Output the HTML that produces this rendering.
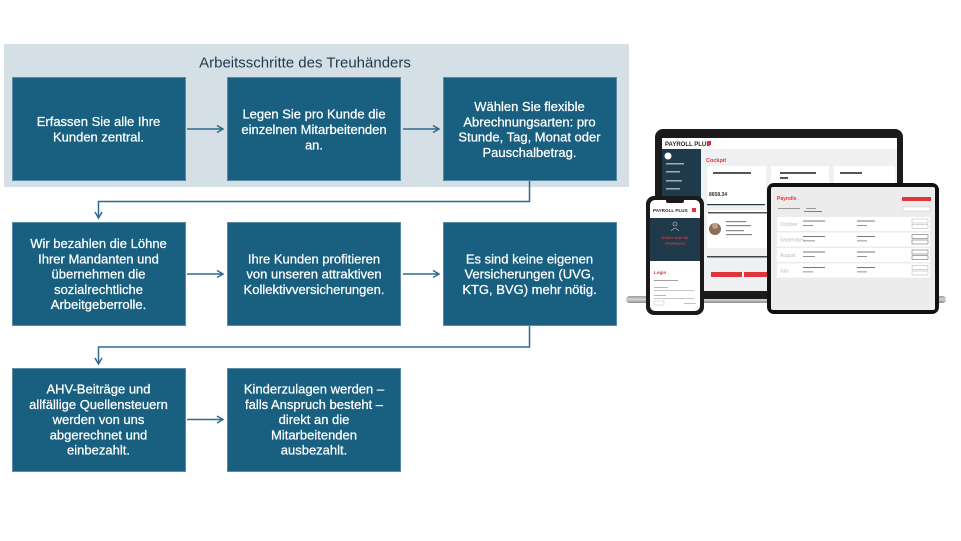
<!DOCTYPE html>
<html>
<head>
<meta charset="utf-8">
<style>
  html,body{margin:0;padding:0;background:#ffffff;}
  body{width:961px;height:541px;overflow:hidden;position:relative;}
  svg{position:absolute;left:0;top:0;display:block;}
  .bt{font-family:"Liberation Sans",sans-serif;font-size:13px;fill:#ffffff;text-anchor:middle;stroke:#ffffff;stroke-width:0.25px;}
  .tt{font-family:"Liberation Sans",sans-serif;font-size:15px;fill:#1e3a4e;text-anchor:middle;}
  .d{font-family:"Liberation Sans",sans-serif;}
</style>
</head>
<body>
<svg width="961" height="541" viewBox="0 0 961 541" xmlns="http://www.w3.org/2000/svg">
  <!-- light panel -->
  <rect x="4" y="44" width="625" height="143" fill="#d5e0e6"/>
  <text class="tt" x="305" y="67.5">Arbeitsschritte des Treuhänders</text>

  <!-- boxes row 1 -->
  <g fill="#185f80" stroke="#5a8aa4" stroke-width="1">
    <rect x="12.5" y="77.5" width="173" height="103"/>
    <rect x="227.5" y="77.5" width="173" height="103"/>
    <rect x="443.5" y="77.5" width="173" height="103"/>
    <rect x="12.5" y="222.5" width="173" height="103"/>
    <rect x="227.5" y="222.5" width="173" height="103"/>
    <rect x="443.5" y="222.5" width="173" height="103"/>
    <rect x="12.5" y="368.5" width="173" height="103"/>
    <rect x="227.5" y="368.5" width="173" height="103"/>
  </g>

  <!-- connectors -->
  <g stroke="#2f6b8d" stroke-width="1.5" fill="none">
    <line x1="187" y1="129" x2="223" y2="129"/>
    <polyline points="217,125.5 223,129 217,132.5"/>
    <line x1="403" y1="129" x2="439" y2="129"/>
    <polyline points="433,125.5 439,129 433,132.5"/>

    <line x1="187" y1="274" x2="223" y2="274"/>
    <polyline points="217,270.5 223,274 217,277.5"/>
    <line x1="403" y1="274" x2="439" y2="274"/>
    <polyline points="433,270.5 439,274 433,277.5"/>

    <line x1="187" y1="419.5" x2="223" y2="419.5"/>
    <polyline points="217,416 223,419.5 217,423"/>

    <polyline points="529.5,181 529.5,201.5 98.5,201.5 98.5,218"/>
    <polyline points="95,212 98.5,218 102,212"/>

    <polyline points="529.5,326 529.5,347 98.5,347 98.5,364"/>
    <polyline points="95,358 98.5,364 102,358"/>
  </g>

  <!-- row 1 texts -->
  <text class="bt" x="98.5" y="126">Erfassen Sie alle Ihre</text>
  <text class="bt" x="98.5" y="141.5">Kunden zentral.</text>

  <text class="bt" x="314" y="118.5">Legen Sie pro Kunde die</text>
  <text class="bt" x="314" y="134">einzelnen Mitarbeitenden</text>
  <text class="bt" x="314" y="149.5">an.</text>

  <text class="bt" x="529.5" y="111">Wählen Sie flexible</text>
  <text class="bt" x="529.5" y="126.3">Abrechnungsarten: pro</text>
  <text class="bt" x="529.5" y="141.6">Stunde, Tag, Monat oder</text>
  <text class="bt" x="529.5" y="156.9">Pauschalbetrag.</text>

  <!-- row 2 texts -->
  <text class="bt" x="98.5" y="248">Wir bezahlen die Löhne</text>
  <text class="bt" x="98.5" y="263.3">Ihrer Mandanten und</text>
  <text class="bt" x="98.5" y="278.6">übernehmen die</text>
  <text class="bt" x="98.5" y="293.9">sozialrechtliche</text>
  <text class="bt" x="98.5" y="309.2">Arbeitgeberrolle.</text>

  <text class="bt" x="314" y="263.3">Ihre Kunden profitieren</text>
  <text class="bt" x="314" y="278.6">von unseren attraktiven</text>
  <text class="bt" x="314" y="293.9">Kollektivversicherungen.</text>

  <text class="bt" x="529.5" y="263.3">Es sind keine eigenen</text>
  <text class="bt" x="529.5" y="278.6">Versicherungen (UVG,</text>
  <text class="bt" x="529.5" y="293.9">KTG, BVG) mehr nötig.</text>

  <!-- row 3 texts -->
  <text class="bt" x="98.5" y="393.5">AHV-Beiträge und</text>
  <text class="bt" x="98.5" y="408.8">allfällige Quellensteuern</text>
  <text class="bt" x="98.5" y="424.1">werden von uns</text>
  <text class="bt" x="98.5" y="439.4">abgerechnet und</text>
  <text class="bt" x="98.5" y="454.7">einbezahlt.</text>

  <text class="bt" x="314" y="393.5">Kinderzulagen werden –</text>
  <text class="bt" x="314" y="408.8">falls Anspruch besteht –</text>
  <text class="bt" x="314" y="424.1">direkt an die</text>
  <text class="bt" x="314" y="439.4">Mitarbeitenden</text>
  <text class="bt" x="314" y="454.7">ausbezahlt.</text>

  <!-- ================= DEVICES ================= -->
  <defs>
    <linearGradient id="base" x1="0" y1="0" x2="0" y2="1">
      <stop offset="0" stop-color="#9a9a9a"/>
      <stop offset="0.5" stop-color="#d6d6d6"/>
      <stop offset="1" stop-color="#8a8a8a"/>
    </linearGradient>
  </defs>

  <!-- Laptop -->
  <rect x="626" y="296" width="320" height="7" rx="3.5" fill="url(#base)"/>
  <rect x="655" y="129" width="248" height="170" rx="8" fill="#1b1b1b"/>
  <rect x="662" y="138" width="235" height="153" fill="#eef0f1"/>
  <rect x="662" y="138" width="235" height="11" fill="#ffffff"/>
  <text class="d" x="665" y="146" font-size="6" font-weight="bold" fill="#2a2a2a">PAYROLL PLUS</text>
  <rect x="707" y="141" width="4" height="4" fill="#e0343a"/>
  <rect x="662" y="149" width="39" height="142" fill="#1f3b4b"/>
  <circle cx="668" cy="156" r="3.5" fill="#ffffff"/>
  <g fill="#9fb0ba">
    <rect x="666" y="163" width="18" height="1.5"/>
    <rect x="666" y="171" width="14" height="1.5"/>
    <rect x="666" y="180" width="16" height="1.5"/>
    <rect x="666" y="188" width="14" height="1.5"/>
  </g>
  <text class="d" x="706" y="162" font-size="5.5" font-weight="bold" fill="#e0343a">Cockpit</text>
  <g fill="#ffffff">
    <rect x="707" y="166" width="59" height="38"/>
    <rect x="771" y="166" width="58" height="38"/>
    <rect x="834" y="166" width="61" height="38"/>
    <rect x="707" y="210" width="120" height="38"/>
  </g>
  <g fill="#555">
    <rect x="713" y="172" width="38" height="2"/>
    <rect x="780" y="172" width="36" height="2"/>
    <rect x="780" y="177" width="8" height="2"/>
    <rect x="840" y="172" width="22" height="2"/>
  </g>
  <text class="d" x="709" y="196" font-size="5" font-weight="bold" fill="#333">8658.34</text>
  <rect x="707" y="204" width="58" height="1.2" fill="#2a3b45"/>
  <rect x="708" y="212" width="60" height="1.5" fill="#555"/>
  <circle cx="715" cy="229" r="6" fill="#8a6d5a"/>
  <circle cx="715" cy="226" r="3" fill="#c49a80"/>
  <g fill="#888">
    <rect x="726" y="221" width="20" height="1.2"/>
    <rect x="726" y="225" width="25" height="1.2"/>
    <rect x="726" y="230" width="18" height="1.2"/>
    <rect x="726" y="234" width="26" height="1.2"/>
  </g>
  <rect x="707" y="256" width="70" height="1.5" fill="#444"/>
  <rect x="711" y="272" width="31" height="5" fill="#e0343a"/>
  <rect x="744" y="272" width="31" height="5" fill="#e0343a"/>

  <!-- Tablet -->
  <rect x="767" y="183" width="172" height="131" rx="7" fill="#111111"/>
  <rect x="771" y="187" width="164" height="123" rx="2" fill="#ececec"/>
  <text class="d" x="777" y="200" font-size="5" font-weight="bold" fill="#e0343a">Payrolls</text>
  <rect x="902" y="197" width="29" height="4" fill="#e0343a"/>
  <rect x="778" y="208" width="22" height="1" fill="#999"/>
  <rect x="806" y="208" width="10" height="1" fill="#999"/>
  <rect x="804" y="211" width="18" height="0.8" fill="#666"/>
  <rect x="903" y="207" width="27" height="4" fill="#ffffff" stroke="#bbb" stroke-width="0.4"/>
  <g fill="#ffffff">
    <rect x="777" y="217" width="153" height="14"/>
    <rect x="777" y="232.5" width="153" height="14"/>
    <rect x="777" y="248" width="153" height="14"/>
    <rect x="777" y="263.5" width="153" height="14"/>
  </g>
  <g class="d" font-size="5" fill="#bbbbbb">
    <text x="780" y="226">October</text>
    <text x="780" y="241.5">September</text>
    <text x="780" y="257">August</text>
    <text x="780" y="272.5">July</text>
  </g>
  <g fill="#777">
    <rect x="803" y="220.5" width="22" height="1"/>
    <rect x="803" y="225" width="10" height="0.8"/>
    <rect x="857" y="220.5" width="18" height="1"/>
    <rect x="857" y="225" width="10" height="0.8"/>
    <rect x="803" y="236" width="22" height="1"/>
    <rect x="803" y="240.5" width="12" height="0.8"/>
    <rect x="857" y="236" width="18" height="1"/>
    <rect x="857" y="240.5" width="10" height="0.8"/>
    <rect x="803" y="251.5" width="22" height="1"/>
    <rect x="803" y="256" width="12" height="0.8"/>
    <rect x="857" y="251.5" width="18" height="1"/>
    <rect x="857" y="256" width="10" height="0.8"/>
    <rect x="803" y="267" width="22" height="1"/>
    <rect x="803" y="271.5" width="10" height="0.8"/>
    <rect x="857" y="267" width="18" height="1"/>
    <rect x="857" y="271.5" width="10" height="0.8"/>
  </g>
  <g fill="none" stroke="#aaa" stroke-width="0.5">
    <rect x="912" y="219" width="16" height="4"/>
    <rect x="912" y="224.5" width="16" height="4"/>
    <rect x="912" y="234.5" width="16" height="4" stroke="#555"/>
    <rect x="912" y="240" width="16" height="4" stroke="#555"/>
    <rect x="912" y="250" width="16" height="4" stroke="#555"/>
    <rect x="912" y="255.5" width="16" height="4" stroke="#555"/>
    <rect x="912" y="265.5" width="16" height="4"/>
    <rect x="912" y="271" width="16" height="4"/>
  </g>

  <!-- Phone -->
  <rect x="646" y="196" width="58" height="119" rx="8" fill="#1a1a1a"/>
  <rect x="650" y="200" width="50" height="111" rx="5" fill="#ffffff"/>
  <rect x="650" y="218" width="50" height="43" fill="#1f3b4b"/>
  <rect x="666" y="199" width="18" height="4" rx="2" fill="#1a1a1a"/>
  <text class="d" x="653" y="212" font-size="4.6" font-weight="bold" fill="#2a2a2a">PAYROLL PLUS</text>
  <rect x="692" y="208" width="4" height="4" fill="#e0343a"/>
  <circle cx="675" cy="224" r="2" fill="none" stroke="#cfd8dd" stroke-width="0.6"/>
  <path d="M671 231 Q675 226 679 231" fill="none" stroke="#cfd8dd" stroke-width="0.6"/>
  <text class="d" x="675" y="239" font-size="4" font-weight="bold" fill="#e0343a" text-anchor="middle">Online tool for</text>
  <text class="d" x="675" y="244.5" font-size="4" font-weight="bold" fill="#e0343a" text-anchor="middle">employees</text>
  <text class="d" x="654" y="274" font-size="4.5" font-weight="bold" fill="#e0343a">Login</text>
  <g fill="#888">
    <rect x="654" y="280" width="24" height="0.8"/>
    <rect x="654" y="287" width="14" height="0.6"/>
    <rect x="654" y="290" width="40" height="0.5"/>
    <rect x="654" y="295" width="12" height="0.6"/>
    <rect x="654" y="298" width="40" height="0.5"/>
  </g>
  <rect x="654" y="301" width="10" height="4" fill="none" stroke="#bbb" stroke-width="0.5"/>
  <rect x="684" y="303" width="12" height="0.6" fill="#999"/>
</svg>
</body>
</html>
